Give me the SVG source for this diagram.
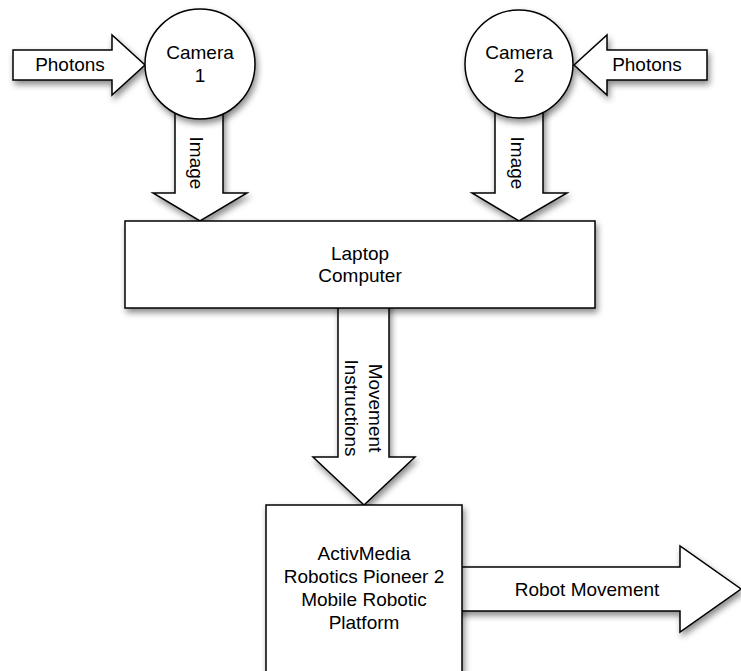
<svg xmlns="http://www.w3.org/2000/svg" width="741" height="671" viewBox="0 0 741 671">
<defs>
<filter id="sh" x="-20%" y="-20%" width="150%" height="160%">
<feDropShadow dx="2" dy="4" stdDeviation="3" flood-color="#000" flood-opacity="0.45"/>
</filter>
</defs>
<style>
.s{fill:#fff;stroke:#000;stroke-width:1.5;filter:url(#sh)}
text{font-family:"Liberation Sans",Arial,sans-serif;font-size:19px;fill:#000;text-anchor:middle}
</style>
<rect width="741" height="671" fill="#fff"/>
<g id="connectors">
<g id="photons1">
<polygon class="s" points="13,50 112,50 112,35 145,65 112,95 112,80 13,80"/>
<text x="70" y="71">Photons</text>
</g>
<g id="photons2">
<polygon class="s" points="707,50 607,50 607,35 574,65 607,95 607,80 707,80"/>
<text x="647" y="71">Photons</text>
</g>
<g id="image1">
<polygon class="s" points="175,100 223,100 223,193 247,193 200,221 153,193 175,193"/>
<text transform="translate(190,163) rotate(90)">Image</text>
</g>
<g id="image2">
<polygon class="s" points="495,100 543,100 543,193 567,193 519,221 472,193 495,193"/>
<text transform="translate(511,163) rotate(90)">Image</text>
</g>
<g id="movement">
<polygon class="s" points="338,300 389,300 389,457 415,457 364,505 313,457 338,457"/>
<text transform="translate(369,408) rotate(90)">Movement</text>
<text transform="translate(345,408) rotate(90)">Instructions</text>
</g>
<g id="robotmove">
<polygon class="s" points="455,567 680,567 680,546 741,589 680,632 680,611 455,611"/>
<text x="587" y="596">Robot Movement</text>
</g>
</g>
<g id="camera1">
<circle class="s" cx="200" cy="64" r="55"/>
<text x="200" y="59">Camera</text>
<text x="200" y="82">1</text>
</g>
<g id="camera2">
<circle class="s" cx="519" cy="64" r="54"/>
<text x="519" y="59">Camera</text>
<text x="519" y="82">2</text>
</g>
<g id="laptop">
<rect class="s" x="125" y="221" width="470" height="87"/>
<text x="360" y="260">Laptop</text>
<text x="360" y="282">Computer</text>
</g>
<g id="platform">
<rect class="s" x="266" y="505" width="196" height="200"/>
<text x="364" y="560">ActivMedia</text>
<text x="364" y="583">Robotics Pioneer 2</text>
<text x="364" y="606">Mobile Robotic</text>
<text x="364" y="629">Platform</text>
</g>
</svg>
